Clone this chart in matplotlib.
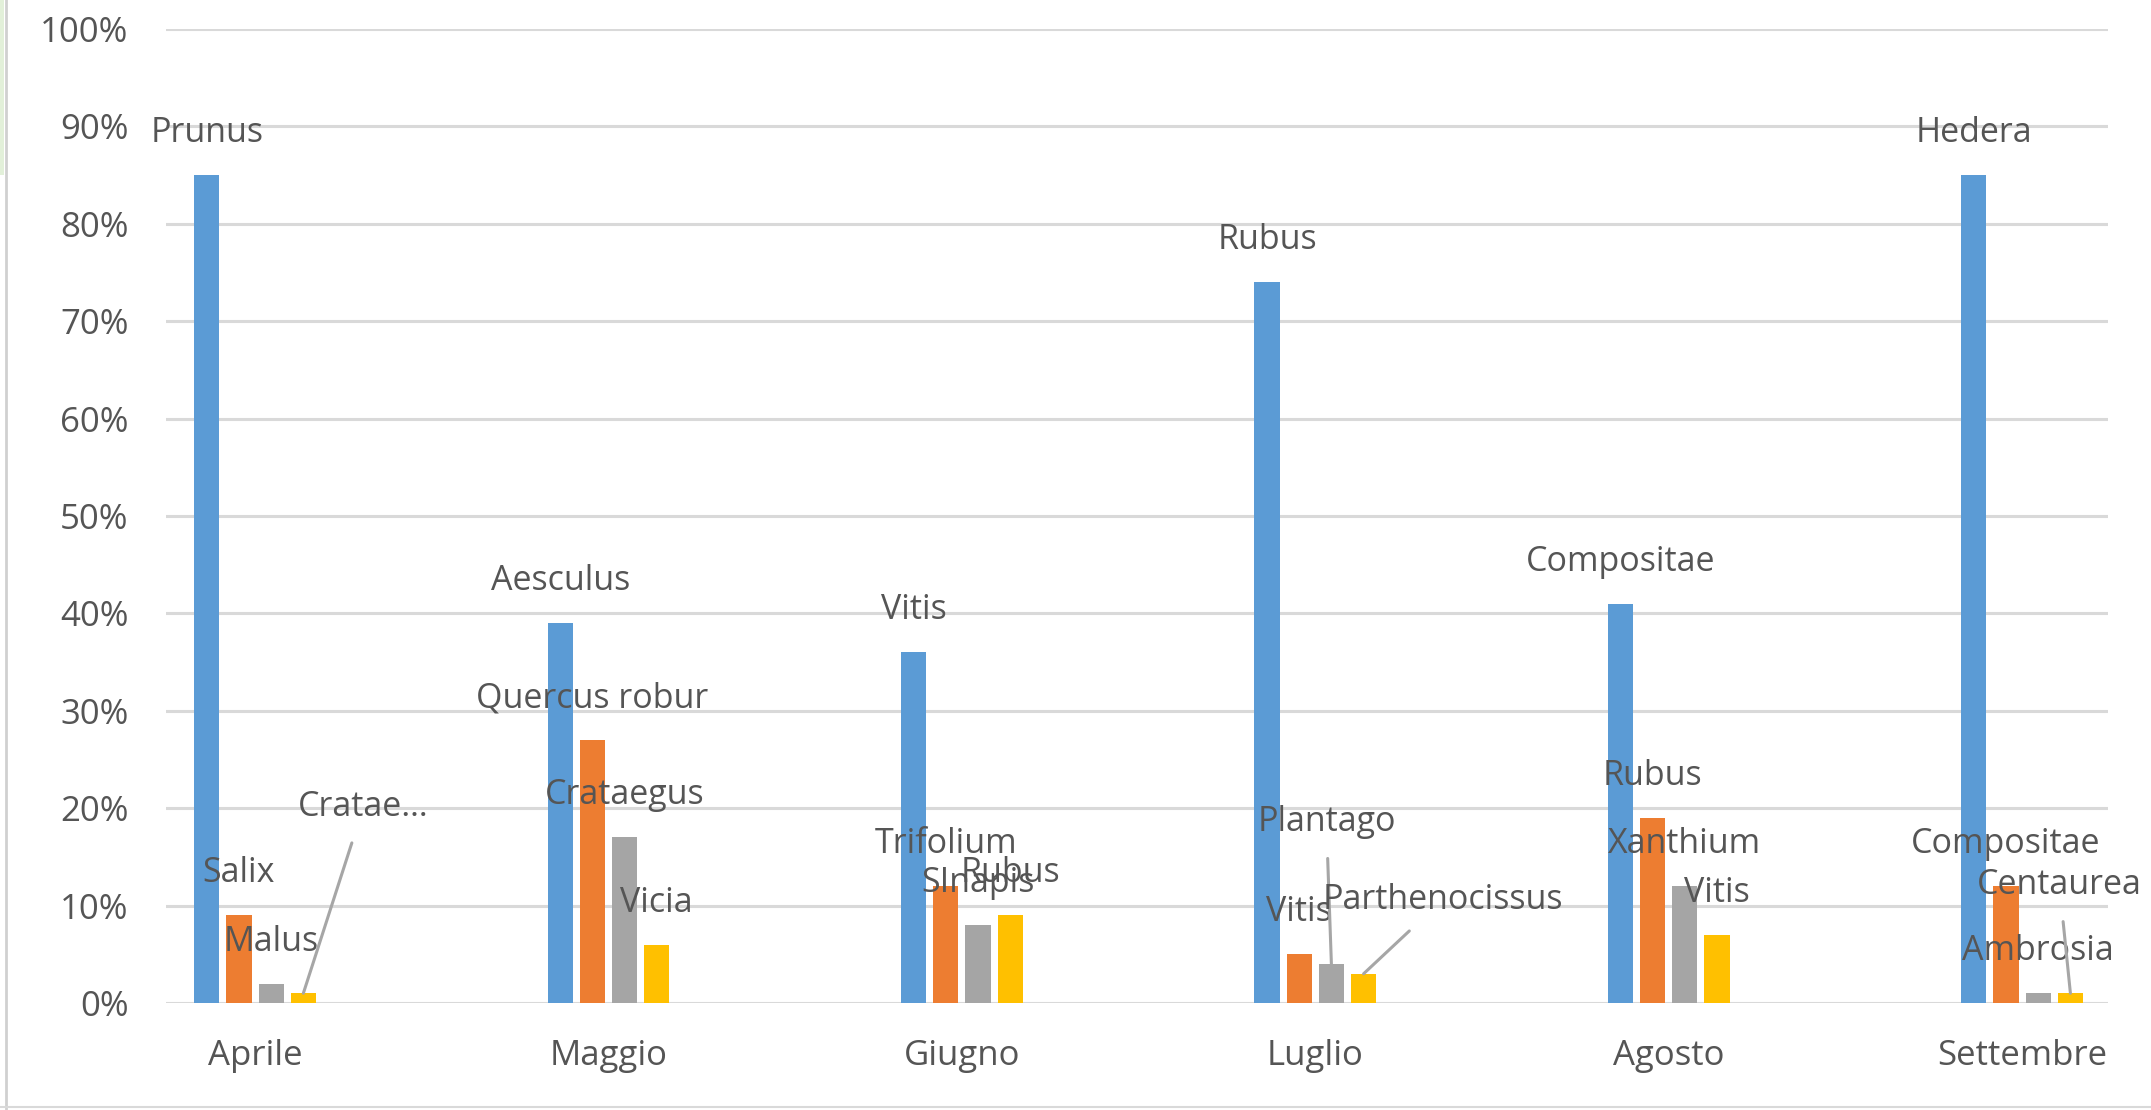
import matplotlib
matplotlib.use("Agg")
import matplotlib.pyplot as plt
from matplotlib.lines import Line2D
from matplotlib.patches import Rectangle
import numpy as np

# chart values (percent of pollen per month)
months = ["Aprile", "Maggio", "Giugno", "Luglio", "Agosto", "Settembre"]
values_1 = [85, 39, 36, 74, 41, 85]
values_2 = [9, 27, 12, 5, 19, 12]
values_3 = [2, 17, 8, 4, 12, 1]
values_4 = [1, 6, 9, 3, 7, 1]
names_1 = ["Prunus", "Aesculus", "Vitis", "Rubus", "Compositae", "Hedera"]
names_2 = ["Salix", "Quercus robur", "Trifolium", "Vitis", "Rubus", "Compositae"]
names_3 = ["Malus", "Crataegus", "SInapis", "Plantago", "Xanthium", "Ambrosia"]
names_4 = ["Cratae\u2026", "Vicia", "Rubus", "Parthenocissus", "Vitis", "Centaurea"]
ytick_vals = list(range(0, 101, 10))

colors = ["#5B9BD5", "#ED7D31", "#A5A5A5", "#FFC000"]
text_c = "#555555"
grid_c = "#D9D9D9"

# labels that were dragged away from their bar (series, month) -> offset px
moved = {(3, 0): (60, 186), (2, 3): (-5, 142), (3, 3): (79, 74), (3, 5): (-11, 108)}

plt.rcParams["font.family"] = ["Open Sans", "DejaVu Sans"]

W, H = 2151, 1110
fig = plt.figure(figsize=(W / 100, H / 100), dpi=100)
ax = fig.add_axes([166 / W, 1 - 1003 / H, (2108 - 166) / W, (1003 - 29) / H])

x = np.arange(len(months))
step = 0.0911
width = 0.071
all_vals = [values_1, values_2, values_3, values_4]
all_names = [names_1, names_2, names_3, names_4]

for j, (vals, names) in enumerate(zip(all_vals, all_names)):
    xs = x + (j - 1.5) * step
    ax.bar(xs, vals, width=width, color=colors[j], zorder=3)
    for i, (xv, v, nm) in enumerate(zip(xs, vals, names)):
        off = moved.get((j, i))
        if off is None:
            ax.annotate(nm, (xv, v), xytext=(0, 42), textcoords="offset pixels",
                        ha="center", va="center", fontsize=24.5, color=text_c, zorder=4)
        else:
            ax.annotate(nm, (xv, v), xytext=off, textcoords="offset pixels",
                        ha="center", va="center", fontsize=24.5, color=text_c, zorder=4,
                        arrowprops=dict(arrowstyle="-", color="#A6A6A6", lw=2.2,
                                        shrinkA=12, shrinkB=0))

ax.set_xlim(-0.252, 5.243)
ax.set_ylim(0, 100)
ax.set_yticks(ytick_vals)
ax.set_yticklabels([f"{v}%" for v in ytick_vals])
ax.set_xticks(x)
ax.set_xticklabels(months)
ax.tick_params(axis="both", length=0, labelsize=25, labelcolor=text_c)
ax.tick_params(axis="y", pad=27)
ax.tick_params(axis="x", pad=26)
ax.grid(axis="y", color=grid_c, lw=2.2)
ax.set_axisbelow(True)
for s in ax.spines.values():
    s.set_visible(False)

# frame bits from the original screenshot
fig.add_artist(Rectangle((0, 1 - 175 / H), 4 / W, 175 / H, transform=fig.transFigure,
                         color="#E2F0D9", lw=0))
fig.add_artist(Line2D([6 / W, 6 / W], [0, 1], transform=fig.transFigure, color="#D0D0D0", lw=2))
fig.add_artist(Line2D([0, 1], [3 / H, 3 / H], transform=fig.transFigure, color="#D9D9D9", lw=1.5))

fig.savefig("out.png", dpi=100)
